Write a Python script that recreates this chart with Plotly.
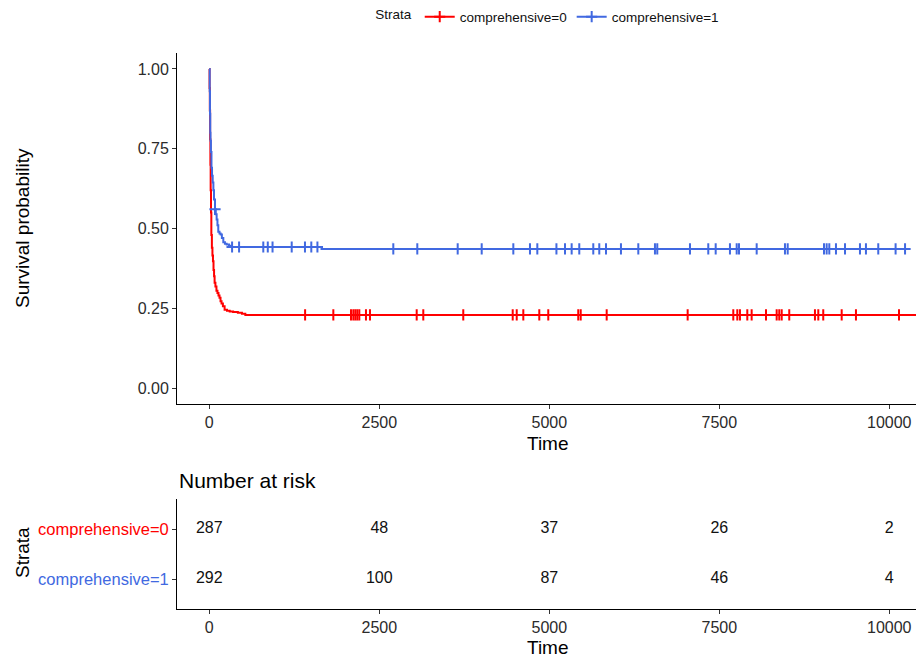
import numpy as np
import plotly.graph_objects as go

# ---------------- data ----------------
strata = ["comprehensive=0", "comprehensive=1"]
colors = ["#FF0000", "#4169E1"]

red_time = [0, 4, 8, 12, 16, 20, 25, 30, 38, 46, 54, 62, 70, 78, 90, 105, 120, 135,
            150, 165, 180, 200, 225, 260, 300, 350, 420, 480, 530, 10450]
red_surv = [1.0, 0.94, 0.87, 0.78, 0.70, 0.62, 0.55, 0.48, 0.44, 0.415, 0.397, 0.37,
            0.35, 0.33, 0.318, 0.305, 0.298, 0.29, 0.283, 0.272, 0.265, 0.256, 0.245,
            0.242, 0.240, 0.238, 0.236, 0.233, 0.229, 0.229]

blue_time = [0, 6, 10, 14, 18, 24, 32, 40, 50, 60, 69, 84, 95, 108, 120, 132, 150, 167,
             185, 206, 230, 255, 290, 329, 1650, 10303]
blue_surv = [1.0, 0.93, 0.86, 0.80, 0.775, 0.74, 0.69, 0.665, 0.644, 0.62, 0.591, 0.56,
             0.545, 0.528, 0.51, 0.49, 0.484, 0.481, 0.47, 0.457, 0.452, 0.45, 0.446,
             0.442, 0.436, 0.436]

red_censor = [1409, 1824, 2084, 2118, 2147, 2176, 2206, 2304, 2363, 3050, 3147, 3735,
              4462, 4521, 4618, 4853, 4985, 5426, 5462, 5844, 7035, 7706, 7765, 7804,
              7912, 7976, 8187, 8344, 8382, 8418, 8529, 8907, 8956, 9029, 9300, 9510,
              10143]
blue_censor = [84, 335, 438, 794, 860, 930, 1212, 1407, 1500, 1590, 2706, 3059, 3653,
               4006, 4471, 4716, 4824, 5105, 5231, 5329, 5441, 5647, 5735, 5834, 6054,
               6309, 6554, 6588, 7069, 7338, 7447, 7657, 7756, 7790, 8050, 8466, 8506,
               9040, 9079, 9118, 9216, 9349, 9569, 9657, 9838, 10093, 10232]

risk_times = [0, 2500, 5000, 7500, 10000]
risk_red = [287, 48, 37, 26, 2]
risk_blue = [292, 100, 87, 46, 4]

x_ticks = [0, 2500, 5000, 7500, 10000]
x_ticklabels = ["0", "2500", "5000", "7500", "10000"]
y_ticks = [0, 0.25, 0.5, 0.75, 1.0]
y_ticklabels = ["0.00", "0.25", "0.50", "0.75", "1.00"]


def step_lookup(times, surv, pts):
    t = np.asarray(times)
    s = np.asarray(surv)
    idx = np.searchsorted(t, np.asarray(pts), side="right") - 1
    return s[idx]


FONT = "Liberation Sans, Arial, sans-serif"
TICKCOL = "#2b2b2b"

fig = go.Figure()

curves = [(red_time, red_surv, red_censor), (blue_time, blue_surv, blue_censor)]
for name, col, (t, s, c) in zip(strata, colors, curves):
    fig.add_trace(go.Scatter(x=t, y=s, mode="lines", line=dict(color=col, width=2, shape="hv"),
                             showlegend=False, xaxis="x", yaxis="y", hoverinfo="skip"))
    fig.add_trace(go.Scatter(x=c, y=step_lookup(t, s, c), mode="markers",
                             marker=dict(symbol="cross-thin", size=8, line=dict(color=col, width=2)),
                             showlegend=False, xaxis="x", yaxis="y"))
    # legend entry
    fig.add_trace(go.Scatter(x=[None], y=[None], mode="lines+markers", name=name,
                             line=dict(color=col, width=2),
                             marker=dict(symbol="cross-thin", size=8, line=dict(color=col, width=2)),
                             xaxis="x", yaxis="y"))

# risk table
for yv, vals in [(2, risk_red), (1, risk_blue)]:
    fig.add_trace(go.Scatter(x=risk_times, y=[yv] * len(risk_times), mode="text",
                             text=[str(v) for v in vals],
                             textfont=dict(family=FONT, size=16, color="#111111"),
                             showlegend=False, xaxis="x2", yaxis="y2", hoverinfo="skip"))

main_bottom = (609 - 404) / 556
table_top = (609 - 499) / 556
xr = [-475, 10393]

axis_common = dict(showgrid=False, zeroline=False, showline=True, linecolor="black", linewidth=1,
                   ticks="outside", ticklen=4, tickcolor="#333333", tickwidth=1,
                   tickfont=dict(family=FONT, size=16, color=TICKCOL))

fig.update_layout(
    width=916, height=660,
    margin=dict(l=177, r=0, t=53, b=51),
    plot_bgcolor="white", paper_bgcolor="white",
    font=dict(family=FONT),
    xaxis=dict(domain=[0, 1], range=xr, tickvals=x_ticks, ticktext=x_ticklabels,
               anchor="y", **axis_common),
    yaxis=dict(domain=[main_bottom, 1], range=[-0.05, 1.05], tickvals=y_ticks,
               ticktext=y_ticklabels, anchor="x", **axis_common),
    xaxis2=dict(domain=[0, 1], range=xr, tickvals=x_ticks, ticktext=x_ticklabels,
                anchor="y2", **axis_common),
    yaxis2=dict(domain=[0, table_top], range=[0.4, 2.6], tickvals=[2, 1],
                ticktext=[f'<span style="color:{colors[0]};font-size:16.5px">{strata[0]}</span>',
                          f'<span style="color:{colors[1]};font-size:16.5px">{strata[1]}</span>'],
                anchor="x2", **axis_common),
    legend=dict(orientation="h", x=0.503, xanchor="center", y=1.065, yanchor="middle",
                title=dict(text="Strata", font=dict(family=FONT, size=13.5, color="#111111")),
                font=dict(family=FONT, size=13.5, color="#111111"),
                itemwidth=30, bgcolor="rgba(0,0,0,0)"),
)

title_font = dict(family=FONT, size=19, color="black")
ann = [
    dict(text="Survival probability", x=-0.2097, y=(609 - 228) / 556, textangle=-90),
    dict(text="Time", x=0.502, y=(609 - 443) / 556),
    dict(text="Time", x=0.502, y=(609 - 647) / 556),
    dict(text="Strata", x=-0.2097, y=(609 - 553) / 556, textangle=-90),
]
for a in ann:
    fig.add_annotation(xref="paper", yref="paper", showarrow=False, xanchor="center",
                       yanchor="middle", font=title_font, **a)
fig.add_annotation(text="Number at risk", xref="paper", yref="paper", x=0, y=(609 - 480) / 556,
                   xanchor="left", yanchor="middle", showarrow=False,
                   font=dict(family=FONT, size=21, color="black"))

fig.write_html("out.html")
